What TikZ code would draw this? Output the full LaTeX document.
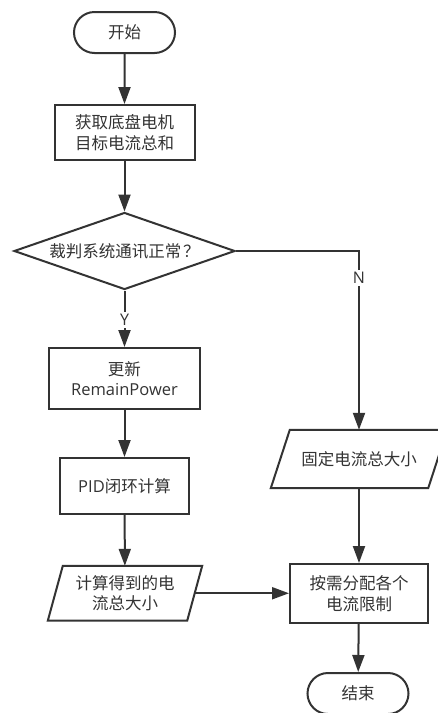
\documentclass[tikz,border=0pt]{standalone}
\usepackage{fontspec}
\setmainfont{Open Sans}
\newfontfamily\cjk{Noto Sans CJK SC}
\newfontfamily\lat{Open Sans}
\usetikzlibrary{shapes.geometric,shapes.misc,arrows.meta,calc}
\definecolor{ink}{HTML}{333333}
\begin{document}
\begin{tikzpicture}[x=1pt,y=-1pt,
  every node/.style={text=ink, font=\cjk\fontsize{16.5}{20.5}\selectfont, align=center, inner sep=0pt},
  line/.style={draw=ink, line width=2pt},
  arr/.style={line, -{Triangle[length=17pt,width=12pt]}},
  term/.style={rounded rectangle, draw=ink, line width=2pt, minimum width=101pt, minimum height=41pt},
  proc/.style={rectangle, draw=ink, line width=2pt},
  dec/.style={diamond, aspect=2.87, draw=ink, line width=2pt, minimum width=221pt, minimum height=77pt},
  io/.style={rectangle},
  lbl/.style={fill=white, inner sep=2pt, font=\lat\fontsize{16}{20}\selectfont}
]
\useasboundingbox (0,0) rectangle (438,713);
\clip (0,0) rectangle (438,713);
\fill[white] (0,0) rectangle (438,713);

% nodes
\node[term] (start) at (124.5,32.5) {开始};
\node[proc, minimum width=140pt, minimum height=55pt] (get) at (124.5,132.5) {获取底盘电机\\目标电流总和};
\node[dec] (check) at (124.5,251) {裁判系统通讯正常\kern2pt？};
\node[proc, minimum width=151pt, minimum height=61pt] (upd) at (124.5,378.5) {更新\\{\lat RemainPower}};
\node[proc, minimum width=129pt, minimum height=56pt] (pid) at (124.5,486) {{\lat PID}闭环计算};
\node[io, minimum width=139pt, minimum height=54.5pt] (calc) at (125,593.25) {计算得到的电\\流总大小};
\node[io, minimum width=157pt, minimum height=58pt] (fixed) at (359,459) {固定电流总大小};
\node[proc, minimum width=138pt, minimum height=59pt] (alloc) at (359,593.5) {按需分配各个\\电流限制};
\node[term] (end) at (358,693.5) {结束};

% parallelogram outlines
\draw[line, line join=miter] ($(calc.north west)+(7.5,0)$) -- ($(calc.north east)+(7.5,0)$)
  -- ($(calc.south east)+(-7.5,0)$) -- ($(calc.south west)+(-7.5,0)$) -- cycle;
\draw[line, line join=miter] ($(fixed.north west)+(9.5,0)$) -- ($(fixed.north east)+(9.5,0)$)
  -- ($(fixed.south east)+(-9.5,0)$) -- ($(fixed.south west)+(-9.5,0)$) -- cycle;

% connectors
\draw[arr] (start) -- (get);
\draw[arr] (get) -- (check);
\draw[arr] (check.south) -- (upd.north);
\draw[arr] (check.east) -| (fixed.north);
\draw[arr] (upd) -- (pid);
\draw[arr] (pid) -- (calc);
\draw[arr] (calc.east) -- (calc.east -| alloc.west);
\draw[arr] (fixed.south) -- (alloc.north);
\draw[arr] (alloc) -- (end);

% branch labels
\node[lbl] (ylab) at (124.5,320) {Y};
\node[lbl] (nlab) at (359,278) {N};
\end{tikzpicture}
\end{document}
